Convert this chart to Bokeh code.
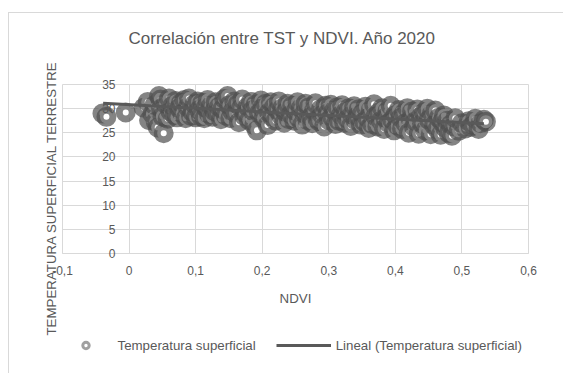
import numpy as np
from bokeh.plotting import figure
from bokeh.layouts import column
from bokeh.models import (FixedTicker, CustomJSTickFormatter, Legend, LegendItem, Range1d, Title, Label)
from bokeh.embed import file_html
from bokeh.resources import INLINE

title_text = "Correlación entre TST y NDVI. Año 2020"
x_title = "NDVI"
y_title = "TEMPERATURA SUPERFICIAL TERRESTRE"
series_name = "Temperatura superficial"
trend_name = "Lineal (Temperatura superficial)"

x_ticks = [-0.1, 0.0, 0.1, 0.2, 0.3, 0.4, 0.5, 0.6]
x_tick_labels = ["-0,1", "0", "0,1", "0,2", "0,3", "0,4", "0,5", "0,6"]
y_ticks = [0, 5, 10, 15, 20, 25, 30, 35]

ndvi = [
    -0.040, -0.034, -0.005,
    0.022, 0.028, 0.030, 0.035, 0.038, 0.040, 0.043, 0.045, 0.047, 0.048, 0.050, 0.052, 0.055, 0.058, 0.060, 0.062, 0.065, 0.068, 0.070, 0.072,
    0.075, 0.078, 0.080, 0.083, 0.085, 0.088, 0.090, 0.093, 0.095, 0.098, 0.100, 0.103, 0.105, 0.108, 0.110, 0.113, 0.115, 0.118, 0.120, 0.123, 0.125, 0.128, 0.130, 0.133, 0.135, 0.138, 0.140, 0.143, 0.145, 0.148, 0.150, 0.152,
    0.155, 0.158, 0.160, 0.163, 0.165, 0.168, 0.170, 0.173, 0.175, 0.178, 0.180, 0.183, 0.185, 0.188, 0.190, 0.192, 0.195, 0.198, 0.200, 0.202, 0.205, 0.208, 0.210, 0.213, 0.215, 0.218, 0.220, 0.223, 0.225, 0.228, 0.230, 0.233, 0.235, 0.238, 0.240, 0.243, 0.245, 0.248, 0.250,
    0.253, 0.255, 0.258, 0.260, 0.263, 0.265, 0.268, 0.270, 0.273, 0.275, 0.278, 0.280, 0.283, 0.285, 0.288, 0.290, 0.293, 0.295, 0.298, 0.300, 0.303, 0.305, 0.308, 0.310, 0.313, 0.315, 0.318, 0.320, 0.323, 0.325, 0.328, 0.330, 0.333, 0.335, 0.338, 0.340, 0.343, 0.345, 0.348,
    0.350, 0.353, 0.355, 0.358, 0.360, 0.363, 0.365, 0.368, 0.370, 0.373, 0.375, 0.378, 0.380, 0.383, 0.385, 0.388, 0.390, 0.393, 0.395, 0.398, 0.400, 0.403, 0.405, 0.408, 0.410, 0.413, 0.415, 0.418, 0.420, 0.423, 0.425, 0.428, 0.430, 0.433, 0.435, 0.438, 0.440, 0.443, 0.445, 0.448,
    0.450, 0.453, 0.455, 0.458, 0.460, 0.463, 0.465, 0.468, 0.470, 0.473, 0.475, 0.478, 0.480, 0.483, 0.485, 0.488, 0.490, 0.495, 0.500, 0.505, 0.510, 0.513, 0.517, 0.520, 0.525, 0.528, 0.533, 0.536,
]
tst = [
    29.0, 28.3, 29.2,
    30.2, 31.4, 27.6, 28.9, 30.7, 27.3, 26.1, 32.6, 31.9, 30.0, 28.4, 24.9, 31.0, 27.9, 32.1, 29.4, 30.6, 28.7, 31.6, 28.2,
    30.1, 31.2, 29.0, 31.8, 28.0, 30.3, 32.1, 28.5, 29.3, 30.9, 28.2, 31.5, 29.7, 28.4, 31.2, 28.0, 30.2, 31.8, 28.9, 30.6, 28.3, 29.5, 31.3, 29.1, 30.4, 27.8, 29.9, 32.0, 28.6, 32.6, 30.7, 28.0,
    29.4, 31.5, 29.0, 30.9, 27.2, 30.1, 31.9, 28.5, 29.0, 30.4, 27.6, 31.4, 29.6, 26.6, 30.8, 25.5, 29.1, 31.7, 30.1, 28.0, 31.0, 26.6, 29.2, 31.3, 28.3, 30.4, 27.5, 29.7, 31.5, 28.6, 30.1, 27.1, 29.3, 31.0, 27.8, 28.8, 30.6, 27.5, 29.5,
    31.3, 28.0, 30.1, 26.7, 29.0, 31.0, 27.6, 30.3, 28.3, 27.0, 29.6, 31.1, 27.8, 27.4, 29.9, 28.7, 26.3, 30.6, 29.0, 27.6, 30.8, 28.2, 29.6, 26.8, 30.3, 27.5, 28.7, 30.7, 27.1, 29.3, 27.9, 30.1, 26.4, 28.8, 30.5, 27.6, 28.4, 29.9, 26.7,
    29.0, 27.3, 30.4, 28.0, 26.0, 29.7, 26.8, 30.9, 28.4, 26.3, 29.2, 27.5, 30.1, 25.8, 28.1, 29.5, 27.0, 30.6, 27.7, 25.5, 28.7, 26.5, 29.7, 28.1, 25.8, 29.1, 27.0, 30.1, 25.0, 27.8, 29.4, 26.2, 27.4, 29.8, 24.8, 28.3, 26.9, 29.2, 25.5, 30.0,
    27.7, 24.7, 29.0, 26.6, 29.6, 25.7, 28.1, 24.6, 27.2, 28.6, 26.0, 27.5, 24.9, 26.7, 24.4, 26.3, 28.0, 25.4, 27.0, 25.9, 27.4, 26.2, 26.6, 27.9, 25.8, 27.0, 27.7, 27.3,
]

# linear trend (Excel "Lineal" trendline)
trend_x = [-0.039, 0.533]
trend_y = [31.1, 26.85]

GRAY_TXT = "#595959"
GRID = "#d9d9d9"
FONT = "Liberation Sans"

# ---- title strip ----
tf = figure(width=554, height=50, output_backend="svg", toolbar_location=None,
            x_range=Range1d(-0.1, 0.6), y_range=Range1d(0, 50), x_axis_type=None, y_axis_type=None,
            min_border=0, min_border_left=0, min_border_right=0, min_border_top=0, min_border_bottom=0)
tf.outline_line_color = None
tf.grid.visible = False
tf.add_layout(Label(x=0.2305, y=25, text=title_text, text_align="center", text_baseline="middle",
                    text_font=FONT, text_font_size="17px", text_color=GRAY_TXT))

# ---- main chart ----
p = figure(width=554, height=273, output_backend="svg", toolbar_location=None,
           x_range=Range1d(-0.1, 0.6), y_range=Range1d(0, 35),
           min_border_left=53, min_border_right=35, min_border_top=21, min_border_bottom=83)
p.outline_line_color = GRID
p.background_fill_color = "white"
p.border_fill_color = "white"

p.xaxis.ticker = FixedTicker(ticks=x_ticks)
p.xaxis.formatter = CustomJSTickFormatter(args=dict(xt=x_ticks, xl=x_tick_labels), code="""
const i = xt.findIndex(t => Math.abs(t - tick) < 1e-9);
return i >= 0 ? xl[i] : String(tick);
""")
p.yaxis.ticker = FixedTicker(ticks=y_ticks)
for ax in (p.xaxis, p.yaxis):
    ax.axis_line_color = GRID
    ax.major_tick_out = 0
    ax.major_tick_in = 0
    ax.minor_tick_out = 0
    ax.minor_tick_in = 0
    ax.major_label_text_font = FONT
    ax.major_label_text_font_size = "12px"
    ax.major_label_text_color = GRAY_TXT
p.yaxis.axis_line_color = None
p.xaxis.major_label_standoff = 12
# y labels sit next to the x = 0 line, as in the original
p.yaxis.major_label_standoff = -78
p.xaxis.axis_label = x_title
p.xaxis.axis_label_text_font = FONT
p.xaxis.axis_label_text_font_size = "13.3px"
p.xaxis.axis_label_text_font_style = "normal"
p.xaxis.axis_label_text_color = GRAY_TXT
p.xaxis.axis_label_standoff = 13

p.xgrid.ticker = FixedTicker(ticks=x_ticks)
p.ygrid.ticker = FixedTicker(ticks=y_ticks)
p.grid.grid_line_color = GRID
p.grid.grid_line_width = 1

ytitle = Title(text=y_title, align="left", offset=-82, standoff=8, text_font=FONT,
               text_font_size="13.3px", text_font_style="normal", text_color=GRAY_TXT)
p.left = [ytitle] + list(p.left)

p.scatter(ndvi, tst, size=13, line_width=7, line_color="#505050", line_alpha=0.7,
          fill_color="white", fill_alpha=1.0)
p.line(trend_x, trend_y, line_color=GRAY_TXT, line_width=3)

# ---- legend strip ----
lf = figure(width=554, height=37, output_backend="svg", toolbar_location=None,
            x_range=Range1d(0, 1), y_range=Range1d(0, 1), x_axis_type=None, y_axis_type=None,
            min_border=0, min_border_left=0, min_border_right=0, min_border_top=0, min_border_bottom=0)
lf.outline_line_color = None
lf.grid.visible = False
# legend swatches (their points fall outside this strip's range, so only the legend shows them)
leg_s = lf.scatter(ndvi[:1], tst[:1], size=8, line_width=3, line_color="#a0a0a0", fill_color="white")
leg_l = lf.line(trend_x, trend_y, line_color=GRAY_TXT, line_width=3)
legend = Legend(items=[LegendItem(label=series_name, renderers=[leg_s]),
                       LegendItem(label=trend_name, renderers=[leg_l])],
                orientation="horizontal", location=(-4.5, 20),
                glyph_width=55, glyph_height=16, label_height=16, label_standoff=5,
                spacing=20, padding=0, margin=0, border_line_color=None,
                background_fill_alpha=0, label_text_font=FONT,
                label_text_font_size="13.3px", label_text_color=GRAY_TXT)
lf.add_layout(legend, "center")

page = column(tf, p, lf, spacing=0,
              styles={"margin-left": "8px", "margin-top": "12px",
                      "border-top": "1px solid #d9d9d9", "border-left": "1px solid #d9d9d9"})

open("out.html", "w").write(file_html(page, INLINE))
